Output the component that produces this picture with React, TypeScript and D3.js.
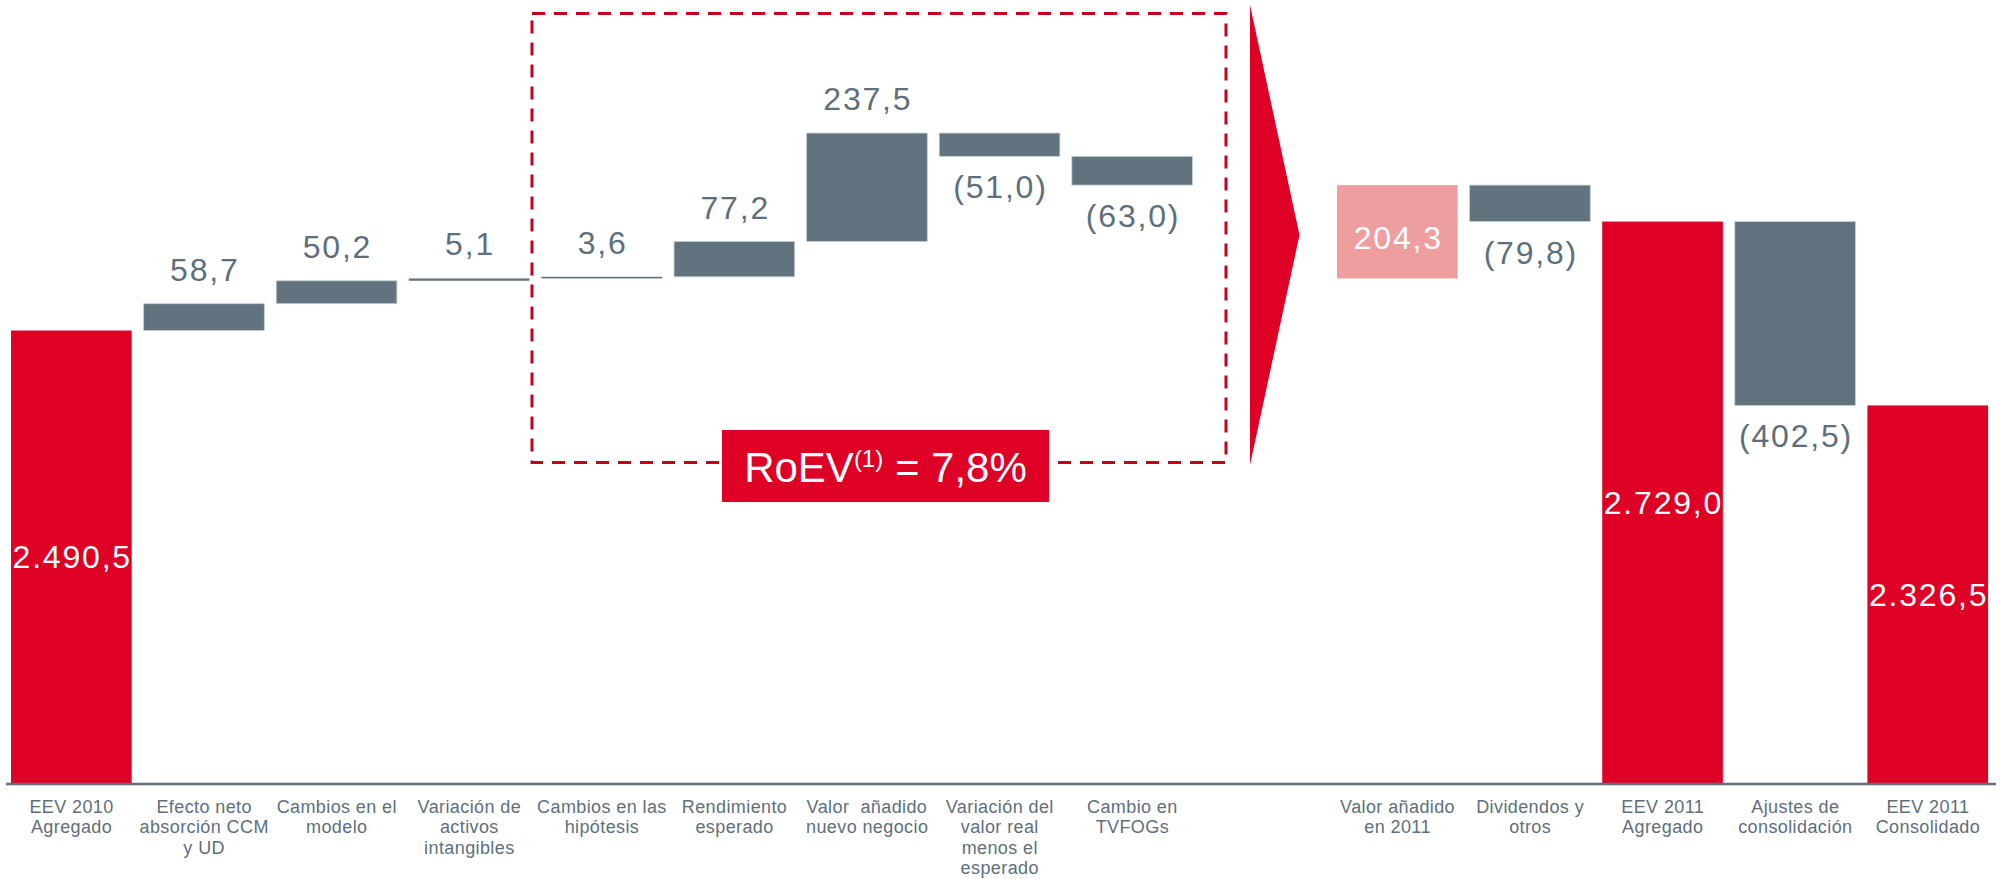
import React from "react";
import * as d3 from "d3";

// ---------- DATA ----------
const categoryLines: string[][] = [
  ["EEV 2010", "Agregado"],
  ["Efecto neto", "absorción CCM", "y UD"],
  ["Cambios en el", "modelo"],
  ["Variación de", "activos", "intangibles"],
  ["Cambios en las", "hipótesis"],
  ["Rendimiento", "esperado"],
  ["Valor|añadido", "nuevo negocio"],
  ["Variación del", "valor real", "menos el", "esperado"],
  ["Cambio en", "TVFOGs"],
  [],
  ["Valor añadido", "en 2011"],
  ["Dividendos y", "otros"],
  ["EEV 2011", "Agregado"],
  ["Ajustes de", "consolidación"],
  ["EEV 2011", "Consolidado"],
];

// kind: total (from axis base), delta (running), sum (sum of previous box items), gap (arrow slot)
const kinds: string[] = [
  "total", "delta", "delta", "delta", "delta", "delta", "delta", "delta", "delta",
  "gap", "sum", "delta", "total", "delta", "total",
];

const values: number[] = [
  2490.5, 58.7, 50.2, 5.1, 3.6, 77.2, 237.5, -51.0, -63.0,
  0, 204.3, -79.8, 2729.0, -402.5, 2326.5,
];

const valueLabels: string[] = [
  "2.490,5", "58,7", "50,2", "5,1", "3,6", "77,2", "237,5", "(51,0)", "(63,0)",
  "", "204,3", "(79,8)", "2.729,0", "(402,5)", "2.326,5",
];

const roevLabel = { main: "RoEV", sup: "(1)", rest: " = 7,8%" };
const axisDomain: [number, number] = [1500, 3200];

// ---------- STYLE ----------
const RED = "#de0025";
const PINK = "#ee9e9e";
const GRAY = "#627380";
const TEXT_GRAY = "#5e6f7b";
const DASH_RED = "#c4001b";
const FONT = "'Liberation Sans', Arial, Helvetica, sans-serif";

const W = 2000;
const H = 879;

export default function App() {
  const ids = categoryLines.map((_, i) => String(i));
  const x = d3
    .scaleBand<string>()
    .domain(ids)
    .range([4.4, 1994.7])
    .paddingInner(0.09)
    .paddingOuter(0.05);
  const y = d3.scaleLinear().domain(axisDomain).range([783, 6.4]);
  const bw = x.bandwidth();

  // compute bar extents
  let running = 0;
  const bars = values.map((v, i) => {
    const k = kinds[i];
    let lo = 0;
    let hi = 0;
    if (k === "total") {
      lo = axisDomain[0];
      hi = v;
      running = v;
    } else if (k === "delta") {
      lo = Math.min(running, running + v);
      hi = Math.max(running, running + v);
      running += v;
    } else if (k === "sum") {
      lo = running - v;
      hi = running;
    }
    return { i, k, v, lo, hi };
  });

  const ls = 1.8;

  return (
    <svg
      width={W}
      height={H}
      viewBox={`0 0 ${W} ${H}`}
      style={{ position: "absolute", left: 0, top: 0, background: "#fff" }}
      fontFamily={FONT}
    >
      {/* dashed box */}
      <rect
        x={532}
        y={13.5}
        width={694}
        height={449}
        fill="none"
        stroke={DASH_RED}
        strokeWidth={3}
        strokeDasharray="13 9"
      />

      {/* arrow */}
      <polygon points="1250,5 1299.5,235 1250,465" fill={RED} />

      {/* bars */}
      {bars
        .filter((b) => b.k !== "gap")
        .map((b) => {
          const x0 = x(String(b.i))!;
          const yTop = y(b.hi);
          const yBot = y(b.lo);
          const h = Math.max(1.6, yBot - yTop);
          const fill =
            b.k === "total" ? RED : b.k === "sum" ? PINK : GRAY;
          return (
            <rect
              key={"b" + b.i}
              x={x0}
              y={yTop}
              width={bw}
              height={h}
              fill={fill}
              stroke={b.k === "delta" ? "#c5ced4" : "none"}
              strokeWidth={b.k === "delta" && h > 4 ? 0.8 : 0}
            />
          );
        })}

      {/* value labels */}
      {bars
        .filter((b) => b.k !== "gap")
        .map((b) => {
          const cx = x(String(b.i))! + bw / 2 + ls / 2;
          const yTop = y(b.hi);
          const yBot = y(b.lo);
          let ty = 0;
          let color = TEXT_GRAY;
          if (b.k === "total") {
            ty = (yTop + yBot) / 2 + 11.5;
            color = "#fff";
          } else if (b.k === "sum") {
            ty = (yTop + yBot) / 2 + 17.5;
            color = "#fff";
          } else if (b.v >= 0) {
            ty = yTop - 23;
          } else {
            ty = yBot + 42;
          }
          return (
            <text
              key={"l" + b.i}
              x={cx}
              y={ty}
              textAnchor="middle"
              fontSize={32}
              letterSpacing={ls}
              fill={color}
            >
              {valueLabels[b.i]}
            </text>
          );
        })}

      {/* axis line */}
      <line x1={6} x2={1996} y1={784} y2={784} stroke="#5f707c" strokeWidth={2.4} />

      {/* category labels */}
      {categoryLines.map((lines, i) => {
        const x0 = x(String(i))!;
        const cx = x0 + bw / 2;
        return (
          <g key={"c" + i} fill={TEXT_GRAY} fontSize={18} letterSpacing={0.4}>
            {lines.map((ln, j) => {
              const ty = 812.7 + j * 20.5;
              if (ln.includes("|")) {
                const [a, b] = ln.split("|");
                return (
                  <g key={j}>
                    <text x={x0} y={ty} textAnchor="start">
                      {a}
                    </text>
                    <text x={x0 + bw} y={ty} textAnchor="end">
                      {b}
                    </text>
                  </g>
                );
              }
              return (
                <text key={j} x={cx + 0.2} y={ty} textAnchor="middle">
                  {ln}
                </text>
              );
            })}
          </g>
        );
      })}

      {/* RoEV box */}
      <rect x={722} y={430} width={327} height={72} fill={RED} />
      <text x={885.5} y={482.3} textAnchor="middle" fontSize={42} fill="#fff">
        {roevLabel.main}
        <tspan fontSize={24} dy={-15}>
          {roevLabel.sup}
        </tspan>
        <tspan dy={15}>{roevLabel.rest}</tspan>
      </text>
    </svg>
  );
}
